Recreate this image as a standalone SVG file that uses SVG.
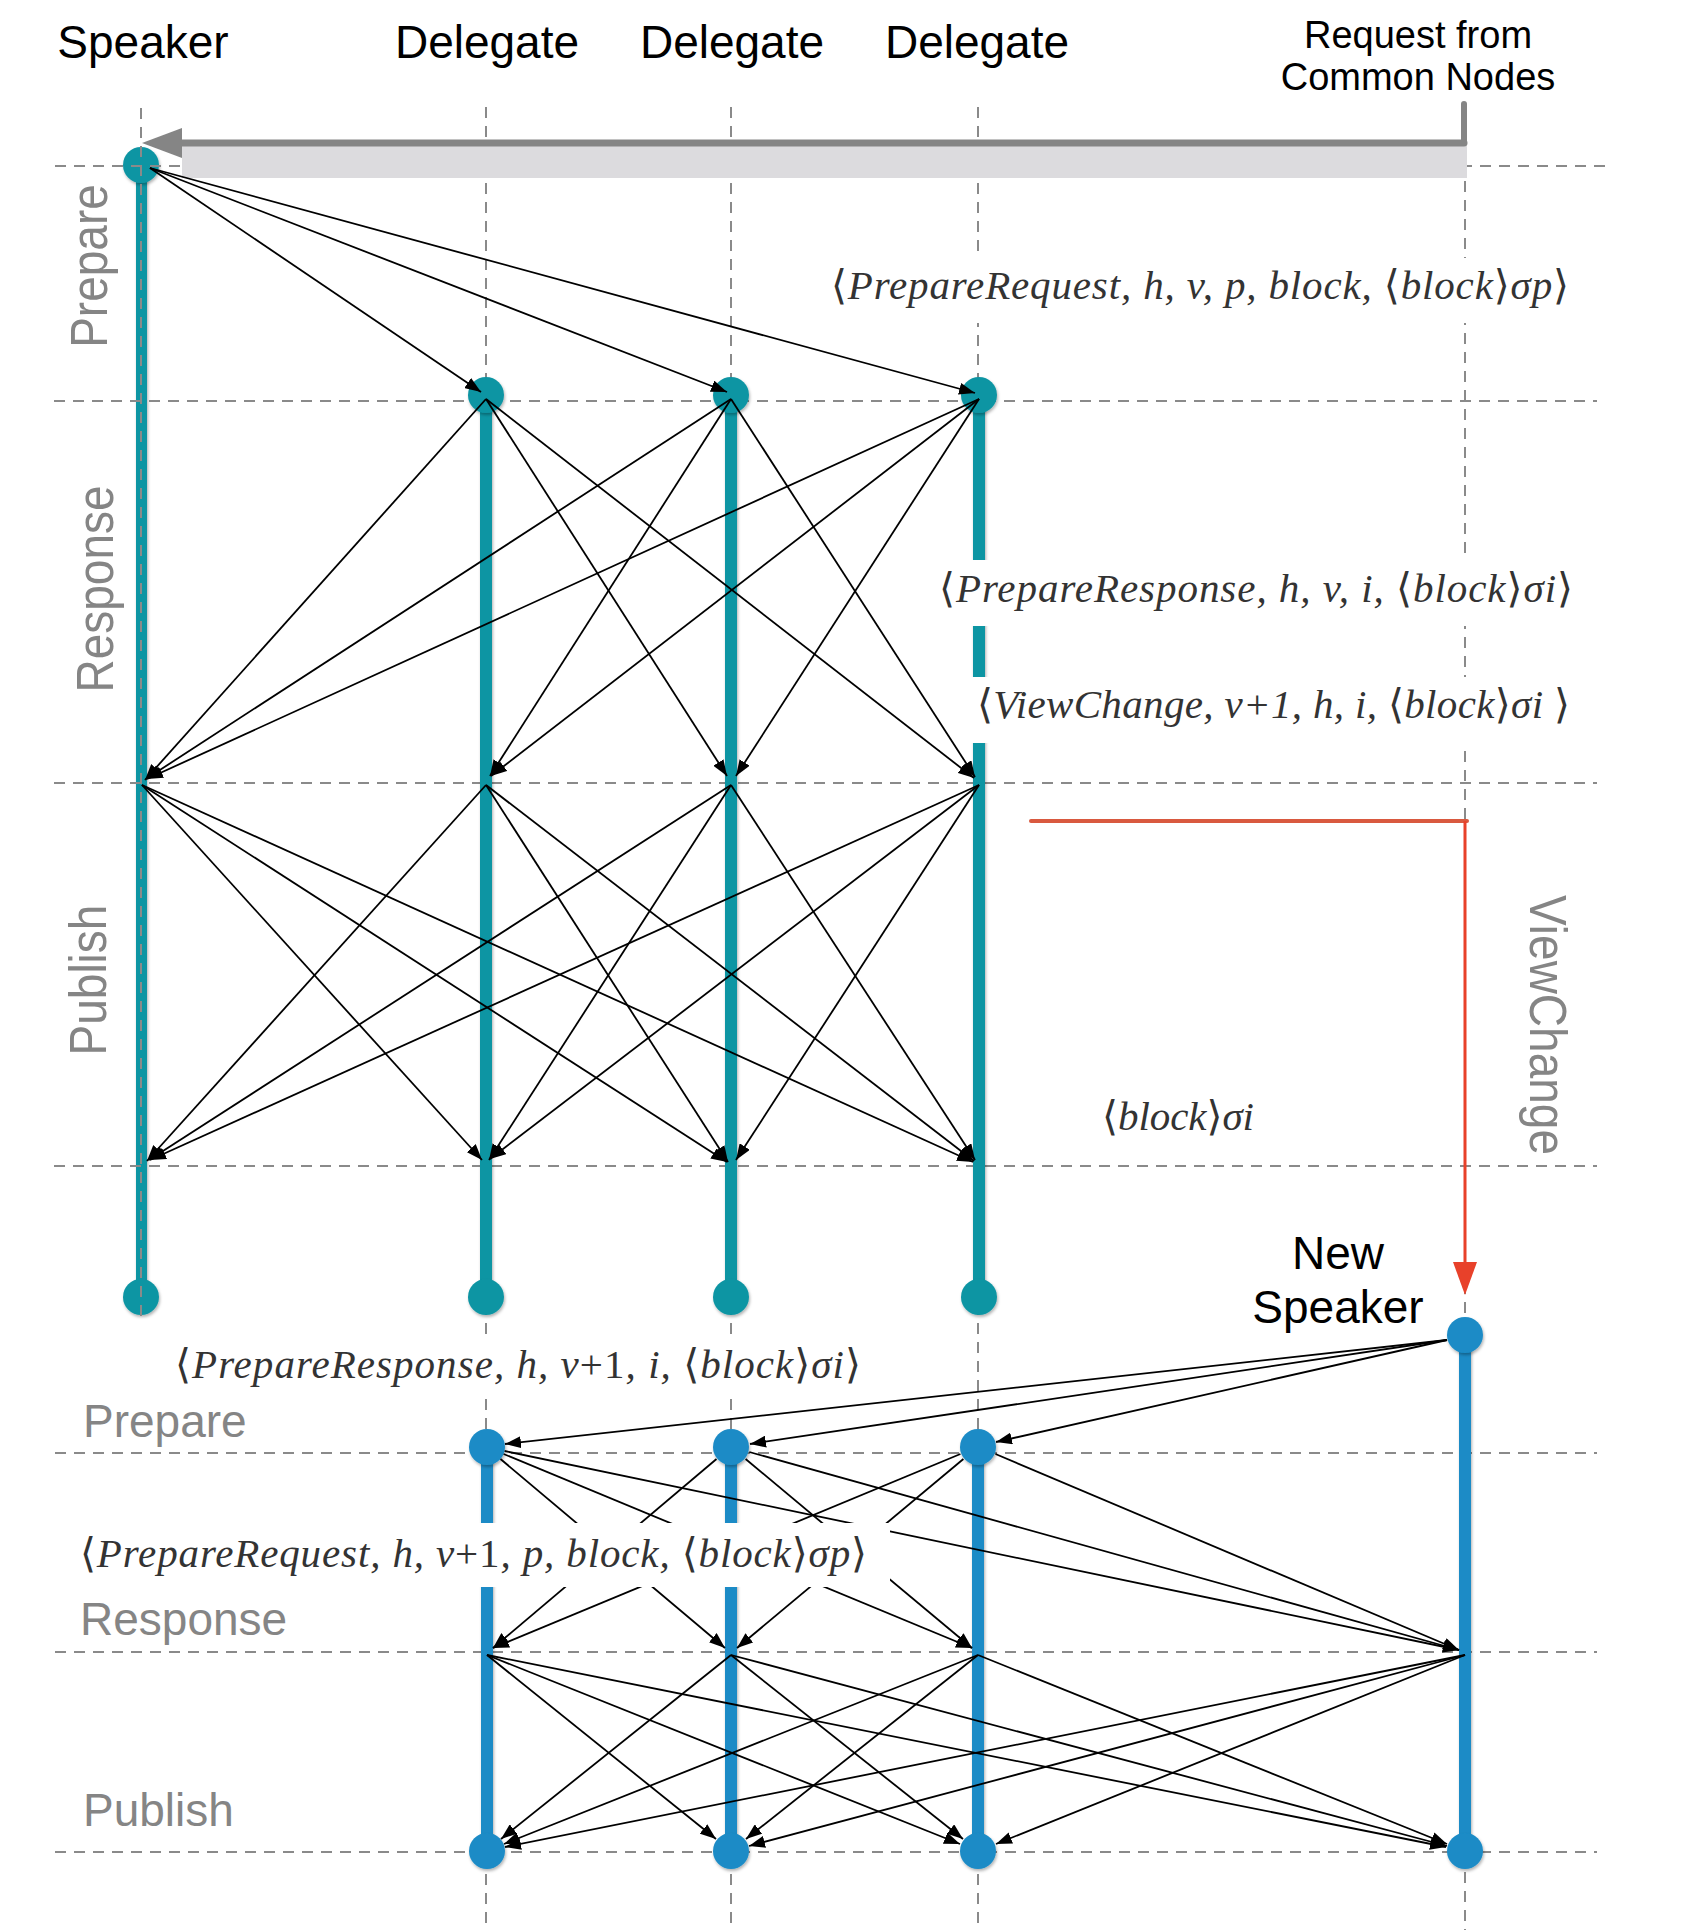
<svg xmlns="http://www.w3.org/2000/svg" width="1696" height="1930" viewBox="0 0 1696 1930">
<style>
.dash{stroke:#8a8a8a;stroke-width:2;stroke-dasharray:11 8;fill:none}
.teal{fill:#0c95a3}
.blue{fill:#1b8bc6}
.msg{stroke:#000;stroke-width:1.8;fill:none;marker-end:url(#ah)}
.hd{font-family:"Liberation Sans",Arial,sans-serif;font-size:46px;fill:#000}
.sm{font-size:38px}
.ph{font-family:"Liberation Sans",Arial,sans-serif;font-size:46px;fill:#858585}
.m{font-family:"Liberation Serif","DejaVu Serif",serif;font-style:italic;font-size:41px;fill:#333}
.u{font-style:normal}
</style>
<defs>
<marker id="ah" viewBox="0 0 16 12" refX="16" refY="6" markerWidth="16" markerHeight="12" markerUnits="userSpaceOnUse" orient="auto">
<path d="M0,0 L16,6 L0,12 z" fill="#000"/>
</marker>
<filter id="sh" x="-50%" y="-20%" width="200%" height="140%">
<feDropShadow dx="1" dy="2" stdDeviation="1.5" flood-color="#000" flood-opacity="0.3"/>
</filter>
</defs>
<rect x="0" y="0" width="1696" height="1930" fill="#fff"/>

<g id="speaker">
<rect class="teal" x="136" y="165" width="11" height="1132" filter="url(#sh)"/>
<circle class="teal" cx="141" cy="165" r="18" filter="url(#sh)"/>
<circle class="teal" cx="141" cy="1297" r="18" filter="url(#sh)"/>
</g>

<g id="grid">
<line class="dash" x1="55" y1="166" x2="1606" y2="166"/>
<line class="dash" x1="54" y1="401" x2="1597" y2="401"/>
<line class="dash" x1="54" y1="783" x2="1597" y2="783"/>
<line class="dash" x1="54" y1="1166" x2="1597" y2="1166"/>
<line class="dash" x1="55" y1="1453" x2="1597" y2="1453"/>
<line class="dash" x1="55" y1="1652" x2="1597" y2="1652"/>
<line class="dash" x1="55" y1="1852" x2="1597" y2="1852"/>
<line class="dash" x1="141" y1="108" x2="141" y2="1316"/>
<line class="dash" x1="486" y1="107" x2="486" y2="1930"/>
<line class="dash" x1="731" y1="107" x2="731" y2="1930"/>
<line class="dash" x1="978" y1="107" x2="978" y2="1930"/>
<line class="dash" x1="1465" y1="181" x2="1465" y2="1930"/>
</g>

<g id="request">
<rect x="182" y="146" width="1285" height="32" fill="#dcdbde"/>
<line x1="1464" y1="104" x2="1464" y2="143" stroke="#858585" stroke-width="6" stroke-linecap="round"/>
<line x1="1464" y1="143" x2="180" y2="143" stroke="#858585" stroke-width="7" stroke-linecap="round"/>
<polygon points="182,128 182,158 142,143" fill="#858585"/>
</g>

<g id="delegate1">
<rect class="teal" x="480" y="395" width="12" height="902" filter="url(#sh)"/>
<circle class="teal" cx="486" cy="395" r="18" filter="url(#sh)"/>
<circle class="teal" cx="486" cy="1297" r="18" filter="url(#sh)"/>
</g>
<g id="delegate2">
<rect class="teal" x="725" y="395" width="12" height="902" filter="url(#sh)"/>
<circle class="teal" cx="731" cy="395" r="18" filter="url(#sh)"/>
<circle class="teal" cx="731" cy="1297" r="18" filter="url(#sh)"/>
</g>
<g id="delegate3">
<rect class="teal" x="973" y="395" width="12" height="902" filter="url(#sh)"/>
<circle class="teal" cx="979" cy="395" r="18" filter="url(#sh)"/>
<circle class="teal" cx="979" cy="1297" r="18" filter="url(#sh)"/>
</g>

<g id="new-speaker">
<rect class="blue" x="1459" y="1335" width="12" height="516" filter="url(#sh)"/>
<circle class="blue" cx="1465" cy="1335" r="18" filter="url(#sh)"/>
<circle class="blue" cx="1465" cy="1851" r="18" filter="url(#sh)"/>
</g>
<g id="lower-delegate1">
<rect class="blue" x="481" y="1447" width="12" height="404" filter="url(#sh)"/>
<circle class="blue" cx="487" cy="1447" r="18" filter="url(#sh)"/>
<circle class="blue" cx="487" cy="1851" r="18" filter="url(#sh)"/>
</g>
<g id="lower-delegate2">
<rect class="blue" x="725" y="1447" width="12" height="404" filter="url(#sh)"/>
<circle class="blue" cx="731" cy="1447" r="18" filter="url(#sh)"/>
<circle class="blue" cx="731" cy="1851" r="18" filter="url(#sh)"/>
</g>
<g id="lower-delegate3">
<rect class="blue" x="972" y="1447" width="12" height="404" filter="url(#sh)"/>
<circle class="blue" cx="978" cy="1447" r="18" filter="url(#sh)"/>
<circle class="blue" cx="978" cy="1851" r="18" filter="url(#sh)"/>
</g>

<g id="label-bg" fill="#fff">
<rect x="815" y="258" width="765" height="65"/>
<rect x="930" y="560" width="655" height="66"/>
<rect x="965" y="677" width="620" height="66"/>
<rect x="165" y="1340" width="705" height="56"/>
</g>

<g id="connectors">
<line class="msg" x1="150" y1="168" x2="481" y2="392"/>
<line class="msg" x1="150" y1="168" x2="727" y2="392"/>
<line class="msg" x1="150" y1="168" x2="975" y2="393"/>
<line class="msg" x1="486" y1="399" x2="145" y2="780"/>
<line class="msg" x1="486" y1="399" x2="727" y2="776"/>
<line class="msg" x1="486" y1="399" x2="974" y2="778"/>
<line class="msg" x1="731" y1="399" x2="146" y2="779"/>
<line class="msg" x1="731" y1="399" x2="490" y2="776"/>
<line class="msg" x1="731" y1="399" x2="975" y2="777"/>
<line class="msg" x1="979" y1="399" x2="147" y2="779"/>
<line class="msg" x1="979" y1="399" x2="491" y2="776"/>
<line class="msg" x1="979" y1="399" x2="736" y2="776"/>
<line class="msg" x1="142" y1="785" x2="482" y2="1160"/>
<line class="msg" x1="142" y1="785" x2="727" y2="1162"/>
<line class="msg" x1="142" y1="785" x2="973" y2="1162"/>
<line class="msg" x1="486" y1="785" x2="147" y2="1161"/>
<line class="msg" x1="486" y1="785" x2="728" y2="1162"/>
<line class="msg" x1="486" y1="785" x2="974" y2="1161"/>
<line class="msg" x1="731" y1="785" x2="149" y2="1160"/>
<line class="msg" x1="731" y1="785" x2="489" y2="1160"/>
<line class="msg" x1="731" y1="785" x2="975" y2="1160"/>
<line class="msg" x1="979" y1="785" x2="150" y2="1160"/>
<line class="msg" x1="979" y1="785" x2="490" y2="1159"/>
<line class="msg" x1="979" y1="785" x2="736" y2="1160"/>
<line x1="1031" y1="821" x2="1467" y2="821" stroke="#d9593f" stroke-width="4" stroke-linecap="round"/>
<line x1="1465" y1="821" x2="1465" y2="1264" stroke="#e8412a" stroke-width="3"/>
<polygon points="1453,1262 1477,1262 1465,1295" fill="#e8412a"/>
<line class="msg" x1="1447" y1="1340" x2="505" y2="1444"/>
<line class="msg" x1="1447" y1="1340" x2="750" y2="1444"/>
<line class="msg" x1="1447" y1="1340" x2="996" y2="1442"/>
<line class="msg" x1="500.5" y1="1459" x2="725" y2="1648"/>
<line class="msg" x1="503.6" y1="1454" x2="972" y2="1648"/>
<line class="msg" x1="504.6" y1="1451" x2="1459" y2="1650"/>
<line class="msg" x1="716.5" y1="1459" x2="493" y2="1648"/>
<line class="msg" x1="745.6" y1="1459" x2="972" y2="1648"/>
<line class="msg" x1="749.3" y1="1452" x2="1459" y2="1650"/>
<line class="msg" x1="960.4" y1="1454" x2="493" y2="1648"/>
<line class="msg" x1="963.4" y1="1459" x2="737" y2="1648"/>
<line class="msg" x1="995.5" y1="1454" x2="1459" y2="1650"/>
<line class="msg" x1="487" y1="1655" x2="716" y2="1839"/>
<line class="msg" x1="487" y1="1655" x2="960" y2="1844"/>
<line class="msg" x1="487" y1="1655" x2="1446" y2="1847"/>
<line class="msg" x1="731" y1="1655" x2="501" y2="1839"/>
<line class="msg" x1="731" y1="1655" x2="963" y2="1839"/>
<line class="msg" x1="731" y1="1655" x2="1447" y2="1846"/>
<line class="msg" x1="978" y1="1655" x2="504" y2="1844"/>
<line class="msg" x1="978" y1="1655" x2="746" y2="1839"/>
<line class="msg" x1="978" y1="1655" x2="1447" y2="1844"/>
<line class="msg" x1="1465" y1="1655" x2="505" y2="1847"/>
<line class="msg" x1="1465" y1="1655" x2="749" y2="1846"/>
<line class="msg" x1="1465" y1="1655" x2="996" y2="1844"/>
</g>

<rect id="label6-bg" x="70" y="1523" width="820" height="64" fill="#fff"/>

<g id="headers">
<text class="hd" x="143" y="58" text-anchor="middle">Speaker</text>
<text class="hd" x="487" y="58" text-anchor="middle">Delegate</text>
<text class="hd" x="732" y="58" text-anchor="middle">Delegate</text>
<text class="hd" x="977" y="58" text-anchor="middle">Delegate</text>
<text class="hd sm" x="1418" y="48" text-anchor="middle">Request from</text>
<text class="hd sm" x="1418" y="90" text-anchor="middle">Common Nodes</text>
<text class="hd" x="1338" y="1269" text-anchor="middle">New</text>
<text class="hd" x="1338" y="1323" text-anchor="middle">Speaker</text>
</g>
<g id="phases">
<text class="ph" text-anchor="middle" transform="translate(107,266) rotate(-90) scale(1,1.12)">Prepare</text>
<text class="ph" text-anchor="middle" transform="translate(113,589) rotate(-90) scale(1,1.12)">Response</text>
<text class="ph" text-anchor="middle" transform="translate(106,980) rotate(-90) scale(1,1.12)">Publish</text>
<text class="ph" text-anchor="middle" transform="translate(1530,1025) rotate(90) scale(1,1.12)">ViewChange</text>
<text class="ph" x="83" y="1437">Prepare</text>
<text class="ph" x="80" y="1635">Response</text>
<text class="ph" x="83" y="1826">Publish</text>
</g>
<g id="messages">
<text class="m" x="831" y="299" textLength="738" lengthAdjust="spacing"><tspan class="u">⟨</tspan>PrepareRequest, h, v, p, block, <tspan class="u">⟨</tspan>block<tspan class="u">⟩</tspan>σp<tspan class="u">⟩</tspan></text>
<text class="m" x="939" y="602" textLength="634" lengthAdjust="spacing"><tspan class="u">⟨</tspan>PrepareResponse, h, v, i, <tspan class="u">⟨</tspan>block<tspan class="u">⟩</tspan>σi<tspan class="u">⟩</tspan></text>
<text class="m" x="977" y="718" textLength="593" lengthAdjust="spacing"><tspan class="u">⟨</tspan>ViewChange, v+1, h, i, <tspan class="u">⟨</tspan>block<tspan class="u">⟩</tspan>σi <tspan class="u">⟩</tspan></text>
<text class="m" x="1102" y="1130" textLength="152" lengthAdjust="spacing"><tspan class="u">⟨</tspan>block<tspan class="u">⟩</tspan>σi</text>
<text class="m" x="175" y="1378" textLength="686" lengthAdjust="spacing"><tspan class="u">⟨</tspan>PrepareResponse, h, v<tspan class="u">+1</tspan>, i, <tspan class="u">⟨</tspan>block<tspan class="u">⟩</tspan>σi<tspan class="u">⟩</tspan></text>
<text class="m" x="80" y="1567" textLength="787" lengthAdjust="spacing"><tspan class="u">⟨</tspan>PrepareRequest, h, v<tspan class="u">+1</tspan>, p, block, <tspan class="u">⟨</tspan>block<tspan class="u">⟩</tspan>σp<tspan class="u">⟩</tspan></text>
</g>
</svg>
